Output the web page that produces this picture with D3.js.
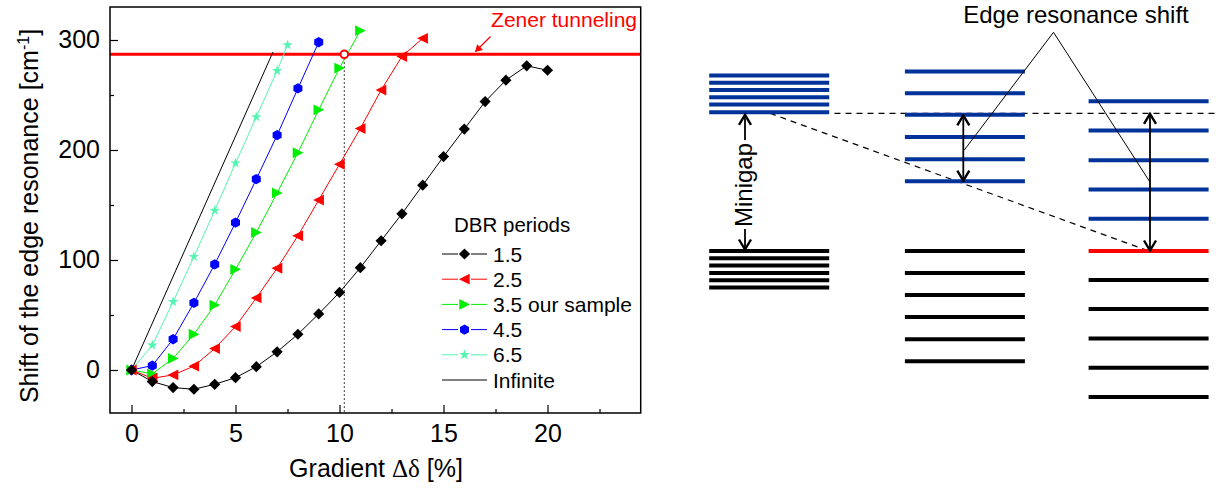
<!DOCTYPE html>
<html>
<head>
<meta charset="utf-8">
<script src="https://cdn.jsdelivr.net/npm/d3@7"></script>
<style>
  body { margin: 0; background: #fff; }
  svg { display: block; font-family: "Liberation Sans", Arial, sans-serif; }
</style>
</head>
<body>
<svg id="chart" width="1218" height="488"></svg>
<script>
// ---- Edge resonance shift vs. gradient, for several DBR period counts ----
const grad15  = [0, 1, 2, 3, 4, 5, 6, 7, 8, 9, 10, 11, 12, 13, 14, 15, 16, 17, 18, 19, 20];
const shift15 = [0, -10.5, -16, -17.5, -13, -7, 3, 16.5, 32.5, 51, 70.5, 93, 117.5, 142, 168, 194, 219, 244, 263.5, 276.5, 272.5];
const grad25  = [0, 1, 2, 3, 4, 5, 6, 7, 8, 9, 10, 11, 12, 13, 14];
const shift25 = [0, -7.5, -4.5, 3.5, 19.5, 39.5, 65.5, 92.5, 122, 154.5, 187, 219.5, 254.5, 285, 301.5];
const grad35  = [0, 1, 2, 3, 4, 5, 6, 7, 8, 9, 10, 11];
const shift35 = [0, -3.5, 10.5, 32.5, 59, 91.5, 125, 161, 197.5, 236.5, 274.5, 308.5];
const grad45  = [0, 1, 2, 3, 4, 5, 6, 7, 8, 9];
const shift45 = [0, 4, 28, 61, 96, 134, 173.5, 213.5, 256, 298];
const grad65  = [0, 1, 2, 3, 4, 5, 6, 7, 7.5];
const shift65 = [0, 22.5, 62, 103, 145, 188, 230, 272, 295.5];
const gradInf  = [0, 6.8];
const shiftInf = [0, 289];

const zenerLevel = 287;        // cm^-1
const sampleGradient = 10.23;  // % where the 3.5-period sample meets the Zener limit

const periodLabels = ["1.5", "2.5", "3.5 our sample", "4.5", "6.5", "Infinite"];
const xTicks = [0, 5, 10, 15, 20];
const xMinor = [2.5, 7.5, 12.5, 17.5, 22.5];
const yTicks = [0, 100, 200, 300];
const yMinor = [50, 150, 250];

// ---- Level scheme (energies in units of the minigap) ----
const uniformUpper = [127.5, 122.2, 116.9, 111.6, 106.3, 100.8];
const uniformLower = [0, -5.3, -10.6, -15.9, -21.2, -26.5];
const gradedUpper  = [130.4, 114.5, 98.9, 82.8, 66.7, 50.7];
const gradedLower  = [0, -16, -32, -48, -64, -80];
const steepUpper   = [108.7, 87.5, 65.9, 44.7, 23.4];
const steepEdge    = [0];
const steepLower   = [-21, -42.2, -63.5, -84.8, -106];
const bandEdge = 100;

const svg = d3.select("#chart");

// ================= left panel =================
const x = d3.scaleLinear().domain([-1.034, 24.48]).range([110, 640.7]);
const y = d3.scaleLinear().domain([-39.1, 330]).range([413, 7]);

const series = [
  { label: periodLabels[0], gx: grad15, sy: shift15, color: "#000000", shape: "diamond" },
  { label: periodLabels[1], gx: grad25, sy: shift25, color: "#ff0000", shape: "triLeft" },
  { label: periodLabels[2], gx: grad35, sy: shift35, color: "#00ee00", shape: "triRight" },
  { label: periodLabels[3], gx: grad45, sy: shift45, color: "#0000ff", shape: "hexagon" },
  { label: periodLabels[4], gx: grad65, sy: shift65, color: "#55f5b0", shape: "star" },
  { label: periodLabels[5], gx: gradInf, sy: shiftInf, color: "#000000", shape: null }
];

function markerPath(shape) {
  if (shape === "diamond") return "M0,-5.6L5.6,0L0,5.6L-5.6,0Z";
  if (shape === "triLeft") return "M-5.6,0L5.2,-5.4L5.2,5.4Z";
  if (shape === "triRight") return "M5.6,0L-5.2,-5.4L-5.2,5.4Z";
  if (shape === "hexagon") {
    const r = 5.2;
    const pts = d3.range(6).map(k => {
      const a = (-90 + 60 * k) * Math.PI / 180;
      return [r * Math.cos(a), r * Math.sin(a)];
    });
    return "M" + pts.map(p => p.join(",")).join("L") + "Z";
  }
  if (shape === "star") return d3.symbol(d3.symbolStar).size(34)();
  return null;
}

// Zener tunneling limit
svg.append("line")
  .attr("x1", x.range()[0]).attr("x2", x.range()[1])
  .attr("y1", y(zenerLevel)).attr("y2", y(zenerLevel))
  .attr("stroke", "#ff0000").attr("stroke-width", 3);

// dotted drop line for the sample
svg.append("line")
  .attr("x1", x(sampleGradient)).attr("x2", x(sampleGradient))
  .attr("y1", y(zenerLevel)).attr("y2", y.range()[0])
  .attr("stroke", "#000").attr("stroke-width", 1)
  .attr("stroke-dasharray", "1.5,2.5");

const line = d3.line().x(d => x(d[0])).y(d => y(d[1]));

series.forEach(s => {
  const pts = s.gx.map((g, i) => [g, s.sy[i]]);
  svg.append("path")
    .attr("d", line(pts))
    .attr("fill", "none")
    .attr("stroke", s.color)
    .attr("stroke-width", 1);
});
// markers drawn after all lines, largest-gradient series first so low curves sit on top near origin
series.slice().reverse().forEach(s => {
  if (!s.shape) return;
  const pts = s.gx.map((g, i) => [g, s.sy[i]]);
  svg.append("g").selectAll("path")
    .data(pts).join("path")
    .attr("d", markerPath(s.shape))
    .attr("transform", d => `translate(${x(d[0])},${y(d[1])})`)
    .attr("fill", s.color);
});

// open circle where the sample reaches the Zener limit
svg.append("circle")
  .attr("cx", x(sampleGradient)).attr("cy", y(zenerLevel)).attr("r", 3.8)
  .attr("fill", "#fff").attr("stroke", "#ff0000").attr("stroke-width", 2);

// Zener label and pointer
svg.append("text")
  .attr("x", 637).attr("y", 27)
  .attr("text-anchor", "end")
  .attr("font-size", 21).attr("fill", "#ff0000")
  .text("Zener tunneling");
svg.append("line")
  .attr("x1", 490.5).attr("y1", 36.5).attr("x2", 475.5).attr("y2", 51.5)
  .attr("stroke", "#ff0000").attr("stroke-width", 1.2);
svg.append("path")
  .attr("d", "M475,52L477.2,44.2L483,50Z")
  .attr("fill", "#ff0000");

// axes (Origin style: inward ticks, full frame)
const axisFont = 25;
const gx = svg.append("g").attr("transform", `translate(0,${y.range()[0]})`)
  .call(d3.axisBottom(x).tickValues(xTicks).tickSize(-8).tickPadding(11).tickFormat(d3.format("d")));
const gxm = svg.append("g").attr("transform", `translate(0,${y.range()[0]})`)
  .call(d3.axisBottom(x).tickValues(xMinor).tickSize(-4).tickFormat(""));
const gy = svg.append("g").attr("transform", `translate(${x.range()[0]},0)`)
  .call(d3.axisLeft(y).tickValues(yTicks).tickSize(-8).tickPadding(10).tickFormat(d3.format("d")));
const gym = svg.append("g").attr("transform", `translate(${x.range()[0]},0)`)
  .call(d3.axisLeft(y).tickValues(yMinor).tickSize(-4).tickFormat(""));
[gx, gxm, gy, gym].forEach(g => {
  g.select(".domain").remove();
  g.selectAll(".tick line").attr("stroke", "#000").attr("stroke-width", 1.2);
  g.selectAll(".tick text").attr("font-size", axisFont).attr("font-family", "Liberation Sans, Arial, sans-serif").attr("fill", "#000");
});

svg.append("rect")
  .attr("x", x.range()[0]).attr("y", y.range()[1])
  .attr("width", x.range()[1] - x.range()[0])
  .attr("height", y.range()[0] - y.range()[1])
  .attr("fill", "none").attr("stroke", "#000").attr("stroke-width", 1.5);

// axis titles
const xt = svg.append("text")
  .attr("x", 376).attr("y", 477)
  .attr("text-anchor", "middle").attr("font-size", 25);
xt.append("tspan").text("Gradient ");
xt.append("tspan").attr("font-family", "Liberation Serif, Times New Roman, serif").text("\u0394\u03b4");
xt.append("tspan").text(" [%]");

const yt = svg.append("text")
  .attr("transform", "translate(38,216) rotate(-90)")
  .attr("text-anchor", "middle").attr("font-size", 25);
yt.append("tspan").text("Shift of the edge resonance [cm");
yt.append("tspan").attr("font-size", 16).attr("baseline-shift", "9").text("-1");
yt.append("tspan").text("]");

// legend
const lg = svg.append("g");
lg.append("text").attr("x", 454).attr("y", 232).attr("font-size", 20.5).text("DBR periods");
series.forEach((s, i) => {
  const ry = 254 + i * 25.2;
  if (s.shape) {
    lg.append("line").attr("x1", 442).attr("x2", 458).attr("y1", ry).attr("y2", ry)
      .attr("stroke", s.color).attr("stroke-width", 1);
    lg.append("line").attr("x1", 471).attr("x2", 487).attr("y1", ry).attr("y2", ry)
      .attr("stroke", s.color).attr("stroke-width", 1);
    lg.append("path").attr("d", markerPath(s.shape))
      .attr("transform", `translate(464.5,${ry})`).attr("fill", s.color);
  } else {
    lg.append("line").attr("x1", 442).attr("x2", 487).attr("y1", ry).attr("y2", ry)
      .attr("stroke", s.color).attr("stroke-width", 1);
  }
  lg.append("text").attr("x", 493).attr("y", ry + 7.5).attr("font-size", 21).text(s.label);
});

// ================= right panel: level scheme =================
const e = d3.scaleLinear().domain([0, 100]).range([251, 113.3]);
const colX = d3.scaleOrdinal().domain(["uniform", "graded", "steep"]).range([709.2, 904.9, 1088.6]);
const colW = 120;
const blue = "#003399";

const columns = [
  { key: "uniform", upper: uniformUpper, edge: [], lower: uniformLower },
  { key: "graded",  upper: gradedUpper,  edge: [], lower: gradedLower },
  { key: "steep",   upper: steepUpper,   edge: steepEdge, lower: steepLower }
];

// dashed guides
svg.append("line")
  .attr("x1", 834.5).attr("x2", 1218).attr("y1", e(bandEdge)).attr("y2", e(bandEdge))
  .attr("stroke", "#000").attr("stroke-width", 1.2).attr("stroke-dasharray", "6,5");
svg.append("line")
  .attr("x1", 770).attr("y1", e(bandEdge)).attr("x2", 1148.7).attr("y2", e(steepEdge[0]))
  .attr("stroke", "#000").attr("stroke-width", 1.2).attr("stroke-dasharray", "6,5");

columns.forEach(c => {
  const x0 = colX(c.key);
  const draw = (levels, color) => svg.append("g").selectAll("line")
    .data(levels).join("line")
    .attr("x1", x0).attr("x2", x0 + colW)
    .attr("y1", d => e(d)).attr("y2", d => e(d))
    .attr("stroke", color).attr("stroke-width", 4);
  draw(c.upper, blue);
  draw(c.lower, "#000");
  draw(c.edge, "#ff0000");
});

// arrows
function head(g, ax, ay, dir) {
  // open V head; dir = -1 points up, +1 points down
  g.append("path")
    .attr("d", `M${ax - 6},${ay - dir * 10}L${ax},${ay}L${ax + 6},${ay - dir * 10}`)
    .attr("fill", "none").attr("stroke", "#000").attr("stroke-width", 2.4)
    .attr("stroke-linejoin", "miter");
}
function shaft(g, ax, y1, y2) {
  g.append("line").attr("x1", ax).attr("x2", ax).attr("y1", y1).attr("y2", y2)
    .attr("stroke", "#000").attr("stroke-width", 1.8);
}
const arr = svg.append("g");

// minigap arrow with label
const mgX = 745;
shaft(arr, mgX, e(bandEdge) + 1, 140);
head(arr, mgX, e(bandEdge) + 1.5, -1);
shaft(arr, mgX, 229, e(0) - 1);
head(arr, mgX, e(0) - 1.5, 1);
svg.append("text")
  .attr("transform", `translate(752,185) rotate(-90)`)
  .attr("text-anchor", "middle").attr("font-size", 24)
  .text("Minigap");

// edge resonance shift arrows
const midX = 963.3, rightX = 1150;
shaft(arr, midX, e(gradedUpper[2]), e(gradedUpper[5]));
head(arr, midX, e(gradedUpper[2]) + 0.5, -1);
head(arr, midX, e(gradedUpper[5]) - 0.5, 1);
shaft(arr, rightX, e(bandEdge), e(steepEdge[0]));
head(arr, rightX, e(bandEdge) + 0.5, -1);
head(arr, rightX, e(steepEdge[0]) - 0.5, 1);

// callout
const apex = [1053.5, 32.3];
const midMid = (e(gradedUpper[2]) + e(gradedUpper[5])) / 2 + 2;
const rightMid = (e(bandEdge) + e(steepEdge[0])) / 2;
svg.append("path")
  .attr("d", `M${midX + 1},${midMid}L${apex[0]},${apex[1]}L${rightX},${rightMid}`)
  .attr("fill", "none").attr("stroke", "#000").attr("stroke-width", 1);
svg.append("text")
  .attr("x", 1076).attr("y", 23)
  .attr("text-anchor", "middle").attr("font-size", 24)
  .text("Edge resonance shift");
</script>
</body>
</html>
